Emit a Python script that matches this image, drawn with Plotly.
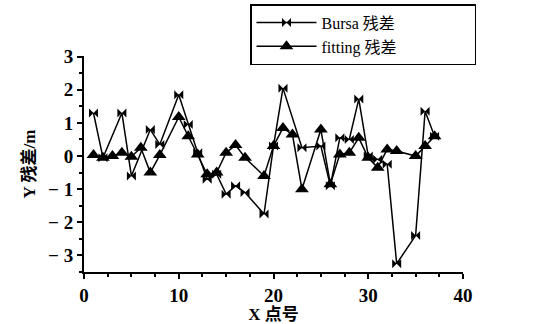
import plotly.graph_objects as go

# Bursa residuals
bursa_x = [1, 2, 4, 5, 7, 8, 10, 11, 12, 13, 14, 15, 16, 17, 19, 20, 21, 23, 25, 26, 27, 28, 29, 30, 31, 32, 33, 35, 36, 37]
bursa_y = [1.3, -0.05, 1.3, -0.6, 0.8, 0.35, 1.85, 0.95, 0.1, -0.7, -0.55, -1.15, -0.9, -1.1, -1.75, 0.3, 2.05, 0.25, 0.3, -0.9, 0.55, 0.5, 1.72, 0.0, -0.1, -0.25, -3.25, -2.4, 1.35, 0.6]

# fitting residuals
fit_x = [1, 2, 3, 4, 5, 6, 7, 8, 10, 11, 12, 13, 14, 15, 16, 17, 19, 20, 21, 22, 23, 25, 26, 27, 28, 29, 30, 31, 32, 33, 35, 36, 37]
fit_y = [0.03, -0.05, 0.0, 0.1, -0.02, 0.25, -0.5, 0.03, 1.18, 0.6, 0.05, -0.55, -0.5, 0.1, 0.33, -0.05, -0.6, 0.3, 0.85, 0.65, -1.0, 0.8, -0.85, 0.05, 0.1, 0.55, -0.05, -0.35, 0.2, 0.15, 0.0, 0.3, 0.6]

x_ticks = [0, 10, 20, 30, 40]
y_ticks = [-3, -2, -1, 0, 1, 2, 3]

FONT = "Liberation Serif, Times New Roman, Noto Sans CJK SC, serif"
PAD = "\u00a0" * 18

fig = go.Figure()
fig.add_trace(go.Scatter(
    x=bursa_x, y=bursa_y, mode="lines+markers", name="Bursa 残差" + PAD,
    line=dict(color="black", width=1.5),
    marker=dict(symbol="bowtie", size=9, color="black"),
))
fig.add_trace(go.Scatter(
    x=fit_x, y=fit_y, mode="lines+markers", name="fitting 残差" + PAD,
    line=dict(color="black", width=1.5),
    marker=dict(symbol="triangle-up", size=12, color="black"),
))

fig.update_layout(
    width=533, height=324,
    margin=dict(l=84, r=70, t=56, b=52, autoexpand=False),
    paper_bgcolor="white", plot_bgcolor="white",
    font=dict(family=FONT, color="black", size=16),
    showlegend=True,
    legend=dict(
        x=0.438, y=1.24, xanchor="left", yanchor="top",
        bordercolor="black", borderwidth=1.5,
        bgcolor="white",
        font=dict(family=FONT, size=16, color="black"),
        tracegroupgap=0, itemwidth=60,
    ),
)
fig.update_xaxes(
    range=[0, 40], tickvals=x_ticks, ticktext=[str(v) for v in x_ticks],
    showgrid=False, zeroline=False, showline=True, linecolor="black", linewidth=2,
    ticks="outside", ticklen=5, tickwidth=1.5, tickcolor="black",
    minor=dict(dtick=2.5, ticks="outside", ticklen=3, tickcolor="black", tickwidth=1.5),
    tickfont=dict(family=FONT, size=19, color="black", weight="bold"),
    title=dict(text="<b>X 点号</b>", font=dict(family=FONT, size=17), standoff=0),
    automargin=False,
)
fig.update_yaxes(
    range=[-3.5, 3.02], tickvals=y_ticks, ticktext=[str(v).replace("-", "− ") for v in y_ticks],
    showgrid=False, zeroline=False, showline=True, linecolor="black", linewidth=2,
    ticks="outside", ticklen=5, tickwidth=1.5, tickcolor="black",
    minor=dict(dtick=0.5, ticks="outside", ticklen=3, tickcolor="black", tickwidth=1.5),
    tickfont=dict(family=FONT, size=19, color="black", weight="bold"),
    title=dict(text="<b>Y 残差/m</b>", font=dict(family=FONT, size=17), standoff=8),
    automargin=False,
)

fig.write_html(
    "out.html",
    config={"displayModeBar": False},
    post_script="document.body.style.margin='0';document.body.style.overflow='hidden';",
)
